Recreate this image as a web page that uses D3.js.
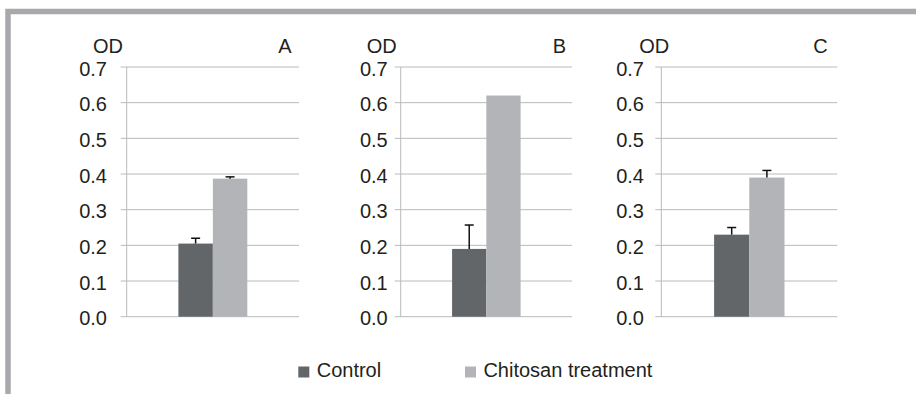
<!DOCTYPE html>
<html>
<head>
<meta charset="utf-8">
<script src="https://cdn.jsdelivr.net/npm/d3@7"></script>
<style>
  body { margin: 0; background: #fff; }
  svg { display: block; font-family: "Liberation Sans", Arial, sans-serif; }
</style>
</head>
<body>
<svg id="chart" width="916" height="394"></svg>
<script>
var panels = ['A', 'B', 'C'];
var series = ['Control', 'Chitosan treatment'];
var controlValues = [0.205, 0.19, 0.23];
var controlErrors = [0.015, 0.067, 0.02];
var treatmentValues = [0.387, 0.62, 0.39];
var treatmentErrors = [0.005, 0, 0.02];
var yTicks = [0, 0.1, 0.2, 0.3, 0.4, 0.5, 0.6, 0.7];
var yLabel = 'OD';

var colors = ['#626669', '#b3b4b8'];
var textColor = '#231f20';
var gridColor = '#b9babc';
var fontSize = 20;

// layout of each small panel (axis x, right end, label positions)
var layout = [
  {axisX: 126.7, right: 299,   tickEnd: 107,   odX: 93,    letterX: 285},
  {axisX: 400.7, right: 572,   tickEnd: 387.7, odX: 366.7, letterX: 559.5},
  {axisX: 661.3, right: 837.3, tickEnd: 644,   odX: 639.3, letterX: 820.5}
];

var svg = d3.select('#chart');

// frame
svg.append('path')
   .attr('d', 'M8,394 V11.5 H916')
   .style('fill', 'none')
   .style('stroke', '#a7a9ac')
   .style('stroke-width', 5.5);

var yScale = d3.scaleLinear()
               .domain([0, 0.7])
               .range([316.7, 67]);

function drawPanel(i) {
  var L = layout[i];
  var g = svg.append('g').attr('class', 'panel');

  // gridlines with tick stub
  g.selectAll('line.grid')
   .data(yTicks)
   .enter().append('line')
   .attr('class', 'grid')
   .attr('x1', L.axisX - 6)
   .attr('x2', L.right)
   .attr('y1', function(d){ return yScale(d); })
   .attr('y2', function(d){ return yScale(d); })
   .style('stroke', gridColor)
   .style('stroke-width', 1);

  // vertical axis
  g.append('line')
   .attr('x1', L.axisX).attr('x2', L.axisX)
   .attr('y1', yScale(0.7)).attr('y2', yScale(0))
   .style('stroke', gridColor)
   .style('stroke-width', 1);

  // tick labels
  g.selectAll('text.tick')
   .data(yTicks)
   .enter().append('text')
   .attr('class', 'tick')
   .attr('x', L.tickEnd)
   .attr('y', function(d){ return yScale(d) + 8.5; })
   .attr('text-anchor', 'end')
   .style('font-size', fontSize + 'px')
   .style('fill', textColor)
   .text(function(d){ return d3.format('.1f')(d); });

  g.append('text')
   .attr('x', L.odX).attr('y', 53.3)
   .style('font-size', fontSize + 'px')
   .style('fill', textColor)
   .text(yLabel);

  g.append('text')
   .attr('x', L.letterX).attr('y', 53.3)
   .attr('text-anchor', 'middle')
   .style('font-size', fontSize + 'px')
   .style('fill', textColor)
   .text(panels[i]);

  var xBand = d3.scaleBand()
                .domain(series)
                .range([L.axisX, L.right])
                .paddingInner(0)
                .paddingOuter(1.5);

  var vals = [controlValues[i], treatmentValues[i]];
  var errs = [controlErrors[i], treatmentErrors[i]];

  g.selectAll('rect.bar')
   .data(series)
   .enter().append('rect')
   .attr('class', 'bar')
   .attr('x', function(d){ return xBand(d); })
   .attr('width', xBand.bandwidth())
   .attr('y', function(d, j){ return yScale(vals[j]); })
   .attr('height', function(d, j){ return yScale(0) - yScale(vals[j]); })
   .style('fill', function(d, j){ return colors[j]; });

  // error bars (upper only)
  for (var j = 0; j < series.length; j++) {
    if (errs[j] <= 0) continue;
    var cx = xBand(series[j]) + xBand.bandwidth() / 2;
    var yTop = yScale(vals[j] + errs[j]);
    g.append('line')
     .attr('x1', cx).attr('x2', cx)
     .attr('y1', yScale(vals[j])).attr('y2', yTop)
     .style('stroke', '#111')
     .style('stroke-width', 1.5);
    g.append('line')
     .attr('x1', cx - 4.5).attr('x2', cx + 4.5)
     .attr('y1', yTop).attr('y2', yTop)
     .style('stroke', '#111')
     .style('stroke-width', 1.5);
  }
}

for (var i = 0; i < panels.length; i++) {
  drawPanel(i);
}

// legend
var legendX = [298.3, 465];
var legend = svg.append('g').attr('class', 'legend');
legend.selectAll('rect')
      .data(series)
      .enter().append('rect')
      .attr('x', function(d, j){ return legendX[j]; })
      .attr('y', 366.5)
      .attr('width', 11)
      .attr('height', 11)
      .style('fill', function(d, j){ return colors[j]; });
legend.selectAll('text')
      .data(series)
      .enter().append('text')
      .attr('x', function(d, j){ return legendX[j] + 18.4; })
      .attr('y', 377.3)
      .style('font-size', fontSize + 'px')
      .style('fill', textColor)
      .text(function(d){ return d; });
</script>
</body>
</html>
